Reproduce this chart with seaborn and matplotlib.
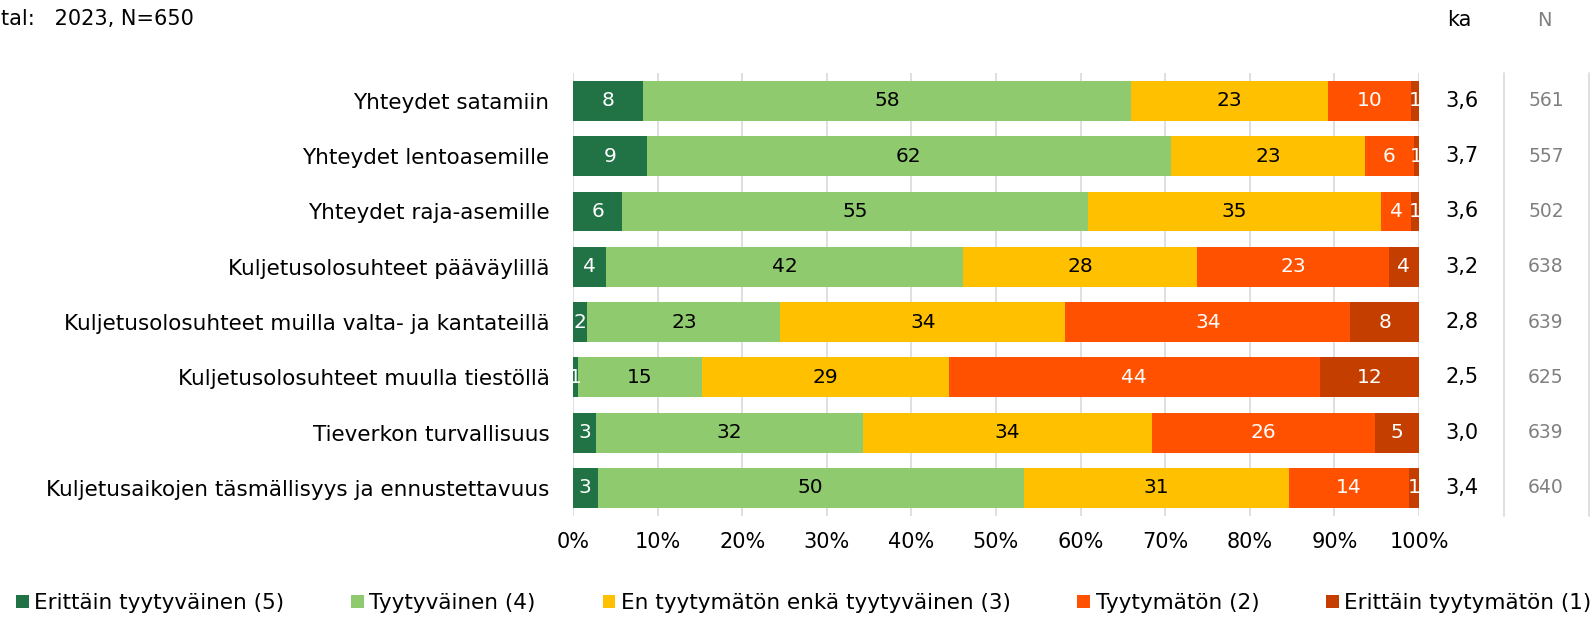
import matplotlib
matplotlib.use("Agg")
import matplotlib.pyplot as plt
import pandas as pd
import seaborn as sns
from matplotlib.patches import Patch

# Survey items (rows of the chart)
categories = [
    "Yhteydet satamiin",
    "Yhteydet lentoasemille",
    "Yhteydet raja-asemille",
    "Kuljetusolosuhteet pääväylillä",
    "Kuljetusolosuhteet muilla valta- ja kantateillä",
    "Kuljetusolosuhteet muulla tiestöllä",
    "Tieverkon turvallisuus",
    "Kuljetusaikojen täsmällisyys ja ennustettavuus",
]

# Share of answers (%) per response option
very_satisfied = [8.3, 8.7, 5.8, 3.9, 1.7, 0.6, 2.7, 2.9]
satisfied = [57.6, 62.0, 55.1, 42.2, 22.8, 14.6, 31.6, 50.4]
neutral = [23.4, 22.9, 34.6, 27.7, 33.7, 29.2, 34.1, 31.3]
dissatisfied = [9.7, 5.8, 3.6, 22.6, 33.7, 43.9, 26.4, 14.2]
very_dissatisfied = [1.0, 0.6, 0.9, 3.6, 8.1, 11.7, 5.2, 1.2]

# Mean score (ka) and number of respondents (N) per item
means = [3.6, 3.7, 3.6, 3.2, 2.8, 2.5, 3.0, 3.4]
counts = [561, 557, 502, 638, 639, 625, 639, 640]

series_names = [
    "Erittäin tyytyväinen (5)",
    "Tyytyväinen (4)",
    "En tyytymätön enkä tyytyväinen (3)",
    "Tyytymätön (2)",
    "Erittäin tyytymätön (1)",
]
series_values = [very_satisfied, satisfied, neutral, dissatisfied, very_dissatisfied]
colors = ["#217346", "#8FCB6E", "#FFC000", "#FF5100", "#C43E00"]
label_colors = ["white", "black", "black", "white", "white"]

sns.set_theme(style="white")
plt.rcParams["font.family"] = ["DejaVu Sans"]
plt.rcParams["text.color"] = "black"

df = pd.DataFrame({name: vals for name, vals in zip(series_names, series_values)})
df.insert(0, "kohde", categories)
cum = df[series_names].cumsum(axis=1)
starts = cum - df[series_names]

fig = plt.figure(figsize=(15.9, 6.24), dpi=100)
ax = fig.add_axes([573 / 1590, 1 - 515.6 / 624, 846 / 1590, (515.6 - 73.2) / 624])

# Stacked bars: draw cumulative totals from the widest down so each segment shows
for i in reversed(range(len(series_names))):
    sns.barplot(
        x=cum[series_names[i]], y=df["kohde"], orient="h",
        color=colors[i], saturation=1, width=0.72, ax=ax,
        edgecolor="none", linewidth=0,
    )

# Value labels in the middle of each segment
for i, name in enumerate(series_names):
    for row in range(len(categories)):
        v = df[name].iloc[row]
        ax.text(starts[name].iloc[row] + v / 2, row, f"{v:.0f}",
                ha="center", va="center", fontsize=14.5, color=label_colors[i])

ax.set_xlim(0, 100)
ax.set_ylim(len(categories) - 0.5, -0.5)
ax.set_xticks(range(0, 101, 10))
ax.set_xticklabels([f"{t}%" for t in range(0, 101, 10)])
ax.xaxis.grid(True, color="#D9D9D9", linewidth=1.2)
ax.yaxis.grid(False)
ax.set_axisbelow(True)
for s in ax.spines.values():
    s.set_visible(False)
ax.set_xlabel("")
ax.set_ylabel("")
ax.tick_params(axis="x", length=0, pad=12, labelsize=15, colors="black")
ax.tick_params(axis="y", length=0, pad=17, labelsize=15.5, colors="black")

# Mean and N columns to the right of the bars
for row in range(len(categories)):
    ax.text(1.0508, row, f"{means[row]:.1f}".replace(".", ","),
            transform=ax.get_yaxis_transform(), ha="center", va="center",
            fontsize=15, color="black", clip_on=False)
    ax.text(1.150, row, f"{counts[row]}",
            transform=ax.get_yaxis_transform(), ha="center", va="center",
            fontsize=13.5, color="#808080", clip_on=False)
for xpos in (1.1005, 1.2015):
    ax.plot([xpos, xpos], [0, 1], transform=ax.transAxes, color="#D9D9D9",
            linewidth=1.2, clip_on=False)

fig.text(1459 / 1590, 1 - 20 / 624, "ka", ha="center", va="center", fontsize=15, color="black")
fig.text(1544 / 1590, 1 - 20 / 624, "N", ha="center", va="center", fontsize=14, color="#808080")
fig.text(1 / 1590, 1 - 19 / 624, "tal:   2023, N=650", ha="left", va="center",
         fontsize=15, color="black")

handles = [Patch(facecolor=c, edgecolor="none") for c in colors]
fig.legend(handles, series_names, loc="center left",
           bbox_to_anchor=(16 / 1590, 1 - 603 / 624), ncol=5, frameon=False,
           handlelength=0.6, handleheight=0.6, handletextpad=0.25,
           columnspacing=3.1, fontsize=15.5, borderaxespad=0, borderpad=0,
           labelcolor="black")

fig.savefig("out.png", dpi=100)
